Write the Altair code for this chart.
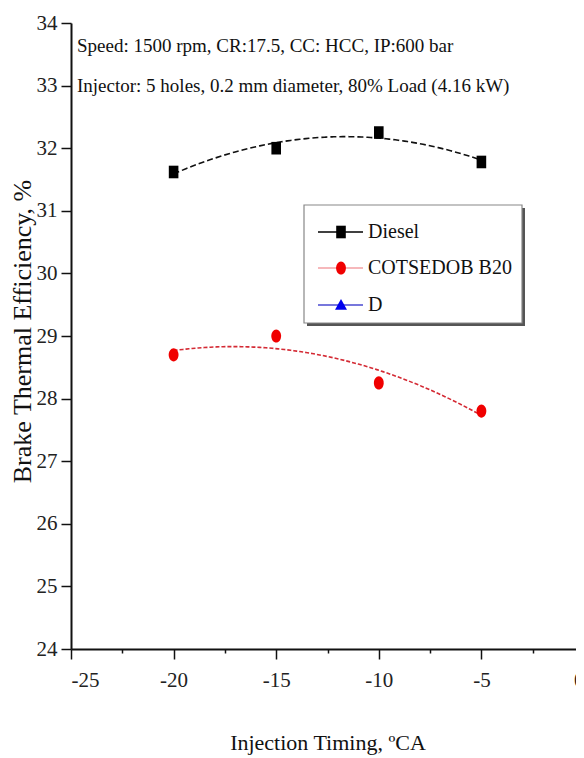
import altair as alt
import pandas as pd

# ---- data ----
timing = [-20, -15, -10, -5]
diesel_bte = [31.62, 32.00, 32.25, 31.78]
b20_bte = [28.70, 29.00, 28.25, 27.80]
series_names = ["Diesel", "COTSEDOB B20", "D"]
x_tick_values = [-25, -22.5, -20, -17.5, -15, -12.5, -10, -7.5, -5, -2.5, 0]
y_tick_values = [24, 24.5, 25, 25.5, 26, 26.5, 27, 27.5, 28, 28.5, 29, 29.5,
                 30, 30.5, 31, 31.5, 32, 32.5, 33, 33.5, 34]
annotations = ["Speed: 1500 rpm, CR:17.5, CC: HCC, IP:600 bar",
               "Injector: 5 holes, 0.2 mm diameter, 80% Load (4.16 kW)"]

# ---- styles ----
FONT = "Liberation Serif"
marker_colors = ["#000000", "#f00000", "#0000ee"]
fit_colors = ["#111111", "#d42a34", "#3333cc"]
legend_line_colors = ["#000000", "#f3a0a4", "#4a4ad0"]
marker_paths = [
    "M-0.8,-1.05L0.8,-1.05L0.8,1.05L-0.8,1.05Z",
    "M0,-1.1A0.82,1.1,0,1,1,0,1.1A0.82,1.1,0,1,1,0,-1.1Z",
    "M0,-1L1,0.8L-1,0.8Z",
]

df = pd.DataFrame({
    "timing": timing + timing,
    "bte": diesel_bte + b20_bte,
    "series": [series_names[0]] * len(timing) + [series_names[1]] * len(timing),
})

x_scale = alt.Scale(domain=[-25, 0], nice=False, zero=False)
y_scale = alt.Scale(domain=[24, 34], nice=False, zero=False)

x_axis = alt.Axis(
    values=x_tick_values,
    labelExpr="datum.value % 5 === 0 ? '' + datum.value : ''",
    tickSize={"condition": {"test": "datum.value % 5 === 0", "value": 10}, "value": 4},
    tickWidth=1.5, tickColor="#111", domainColor="#111", domainWidth=2,
    labelFont=FONT, labelFontSize=21, labelColor="#222", labelPadding=10,
    title="Injection Timing, ºCA", titleFont=FONT, titleFontSize=22,
    titleFontWeight="normal", titleColor="#111", titleY=93, titleBaseline="middle",
    grid=False,
)
y_axis = alt.Axis(
    values=y_tick_values,
    labelExpr="datum.value % 1 === 0 ? '' + datum.value : ''",
    tickSize={"condition": {"test": "datum.value % 1 === 0", "value": 10}, "value": 4},
    tickWidth=1.5, tickColor="#111", domainColor="#111", domainWidth=2,
    labelFont=FONT, labelFontSize=21, labelColor="#222", labelPadding=4,
    title="Brake Thermal Efficiency, %", titleFont=FONT, titleFontSize=26,
    titleFontWeight="normal", titleColor="#111", titleX=-49, titleY=308,
    titleBaseline="middle", grid=False,
)

base = alt.Chart(df)

fits = base.mark_line(strokeWidth=1.6).transform_regression(
    "timing", "bte", method="poly", order=2, groupby=["series"]
).encode(
    x=alt.X("timing:Q", scale=x_scale, axis=x_axis),
    y=alt.Y("bte:Q", scale=y_scale, axis=y_axis),
    stroke=alt.Stroke("series:N", scale=alt.Scale(domain=series_names, range=fit_colors), legend=None),
    strokeDash=alt.StrokeDash("series:N", scale=alt.Scale(domain=series_names, range=[[6, 3], [4, 2], [4, 2]]), legend=None),
)

points = base.mark_point(filled=True, size=144, opacity=1).encode(
    x=alt.X("timing:Q", scale=x_scale),
    y=alt.Y("bte:Q", scale=y_scale),
    color=alt.Color("series:N", scale=alt.Scale(domain=series_names, range=marker_colors), legend=None),
    shape=alt.Shape("series:N", scale=alt.Scale(domain=series_names, range=marker_paths), legend=None),
)

one = pd.DataFrame({"k": [0]})
layers = [fits, points]

# annotations
for i, txt in enumerate(annotations):
    layers.append(
        alt.Chart(one).mark_text(align="left", baseline="middle", font=FONT, fontSize=19, color="#111")
        .encode(x=alt.value(6), y=alt.value(23 + 40 * i), text=alt.value(txt))
    )

# legend box (shadow + box)
box_x, box_x2, box_y, box_y2 = 233, 451, 182, 300
layers.append(alt.Chart(one).mark_rect(color="#555").encode(
    x=alt.value(box_x + 3), x2=alt.value(box_x2 + 3), y=alt.value(box_y + 3), y2=alt.value(box_y2 + 3)))
layers.append(alt.Chart(one).mark_rect(fill="white", stroke="#888", strokeWidth=1.2).encode(
    x=alt.value(box_x), x2=alt.value(box_x2), y=alt.value(box_y), y2=alt.value(box_y2)))

row_y = [209, 245, 282]
for i, name in enumerate(series_names):
    yy = row_y[i]
    layers.append(alt.Chart(one).mark_rule(color=legend_line_colors[i], strokeWidth=1.5).encode(
        x=alt.value(247), x2=alt.value(292), y=alt.value(yy)))
    layers.append(alt.Chart(one).mark_point(filled=True, opacity=1, size=144, shape=marker_paths[i],
                                            color=marker_colors[i]).encode(
        x=alt.value(270), y=alt.value(yy)))
    layers.append(alt.Chart(one).mark_text(align="left", baseline="middle", font=FONT, fontSize=20,
                                           color="#111").encode(
        x=alt.value(297), y=alt.value(yy), text=alt.value(name)))

chart = alt.layer(*layers).properties(
    width=513, height=626,
    padding={"left": 63, "top": 15, "right": -8, "bottom": 109},
    autosize=alt.AutoSizeParams(type="none"),
    background="white",
).configure_view(stroke=None)

chart.save("out.html", embed_options={"renderer": "svg", "actions": False})
